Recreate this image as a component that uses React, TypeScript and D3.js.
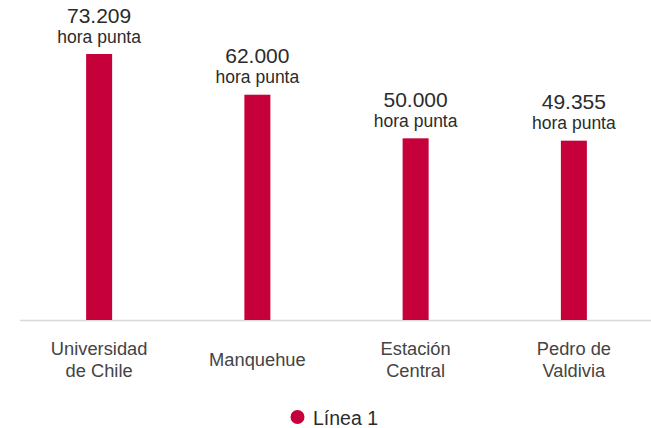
import React from "react";
import * as d3 from "d3";

const categories: string[][] = [
  ["Universidad", "de Chile"],
  ["Manquehue"],
  ["Estación", "Central"],
  ["Pedro de", "Valdivia"],
];
const values: number[] = [73209, 62000, 50000, 49355];
const valueLabels: string[] = ["73.209", "62.000", "50.000", "49.355"];
const subLabel = "hora punta";
const seriesName = "Línea 1";

const W = 651;
const H = 428;
const FONT = "'Liberation Sans', Arial, Helvetica, sans-serif";
const COLOR = "#C5003A";

export default function App() {
  const keys = categories.map((c) => c.join(" "));
  const x = d3.scaleBand<string>().domain(keys).range([20, 653]).paddingInner(0).paddingOuter(0);
  const y = d3.scaleLinear().domain([0, 73209]).range([320, 54]);
  const barW = 26;

  return (
    <svg
      width={W}
      height={H}
      style={{ position: "absolute", left: 0, top: 0, background: "#fff" }}
      fontFamily={FONT}
    >
      <line x1={20} x2={651} y1={320.5} y2={320.5} stroke="#d9d9d9" strokeWidth={1.5} />
      {values.map((v, i) => {
        const cx = (x(keys[i]) as number) + x.bandwidth() / 2;
        const top = y(v);
        return (
          <g key={i}>
            <rect x={cx - barW / 2} y={top} width={barW} height={y(0) - top} fill={COLOR} />
            <text x={cx} y={top - 31.5} textAnchor="middle" fontSize={21} fill="#2b2b2b">
              {valueLabels[i]}
            </text>
            <text x={cx} y={top - 11.5} textAnchor="middle" fontSize={17.5} fill="#2b2b2b">
              {subLabel}
            </text>
            {categories[i].map((line, j) => {
              const n = categories[i].length;
              const by = n === 1 ? 366 : 355 + j * 22;
              return (
                <text key={j} x={cx} y={by} textAnchor="middle" fontSize={18.3} fill="#444">
                  {line}
                </text>
              );
            })}
          </g>
        );
      })}
      <circle cx={297.5} cy={417} r={7} fill={COLOR} />
      <text x={313} y={425} fontSize={19.5} fill="#2b2b2b">
        {seriesName}
      </text>
    </svg>
  );
}
